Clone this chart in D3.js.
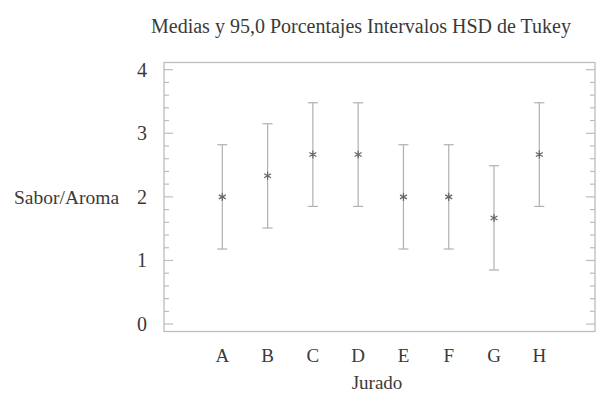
<!DOCTYPE html>
<html>
<head>
<meta charset="utf-8">
<script src="https://cdn.jsdelivr.net/npm/d3@7"></script>
<style>
  body { margin: 0; background: #fff; }
  svg text { font-family: "Liberation Serif", "DejaVu Serif", serif; fill: #3a3a3a; }
</style>
</head>
<body>
<svg id="chart" width="596" height="393"></svg>
<script>
// Tukey HSD means and 95% intervals
const jurados = ['A', 'B', 'C', 'D', 'E', 'F', 'G', 'H'];
const medias = [2.0, 2.333, 2.667, 2.667, 2.0, 2.0, 1.667, 2.667];
const inferior = [1.18, 1.51, 1.85, 1.85, 1.18, 1.18, 0.85, 1.85];
const superior = [2.82, 3.15, 3.48, 3.48, 2.82, 2.82, 2.49, 3.48];
const yTicks = [0, 1, 2, 3, 4];

const svg = d3.select('#chart');
const box = { left: 164, top: 62.5, right: 595, bottom: 331.5 };

const x = d3.scalePoint()
  .domain(jurados)
  .range([box.left, 597.6])
  .padding(1.287);

const y = d3.scaleLinear()
  .domain([-0.117, 4.113])
  .range([box.bottom, box.top]);

const gray = '#bcbcbc';

// frame
svg.append('rect')
  .attr('x', box.left).attr('y', box.top)
  .attr('width', box.right - box.left).attr('height', box.bottom - box.top)
  .attr('fill', 'none').attr('stroke', gray).attr('stroke-width', 1.3);

// ticks left and right, inward
const minor = d3.range(0, 4.01, 0.2).map(v => +v.toFixed(1));
[[box.left, 1], [box.right, -1]].forEach(([x0, dir]) => {
  svg.append('g').selectAll('line')
    .data(minor)
    .join('line')
    .attr('x1', x0)
    .attr('x2', d => x0 + dir * (Number.isInteger(d) ? 9 : 5))
    .attr('y1', d => y(d)).attr('y2', d => y(d))
    .attr('stroke', gray).attr('stroke-width', 1.2);
});

// y tick labels
svg.append('g').selectAll('text')
  .data(yTicks)
  .join('text')
  .attr('x', 142).attr('y', d => y(d))
  .attr('dy', '0.35em')
  .attr('text-anchor', 'middle')
  .attr('font-size', 20)
  .text(d => d);

// x tick labels
svg.append('g').selectAll('text')
  .data(jurados)
  .join('text')
  .attr('x', d => x(d)).attr('y', 355)
  .attr('dy', '0.35em')
  .attr('text-anchor', 'middle')
  .attr('font-size', 19)
  .text(d => d);

// error bars
const bars = svg.append('g')
  .selectAll('g')
  .data(jurados)
  .join('g')
  .attr('stroke', '#b0b0b0')
  .attr('stroke-width', 1.2);

bars.append('line')
  .attr('x1', d => x(d)).attr('x2', d => x(d))
  .attr('y1', (d, i) => y(superior[i])).attr('y2', (d, i) => y(inferior[i]));
bars.append('line')
  .attr('x1', d => x(d) - 5).attr('x2', d => x(d) + 5)
  .attr('y1', (d, i) => y(superior[i])).attr('y2', (d, i) => y(superior[i]));
bars.append('line')
  .attr('x1', d => x(d) - 5).attr('x2', d => x(d) + 5)
  .attr('y1', (d, i) => y(inferior[i])).attr('y2', (d, i) => y(inferior[i]));

// mean markers
svg.append('g')
  .selectAll('path')
  .data(jurados)
  .join('path')
  .attr('transform', (d, i) => `translate(${x(d)},${y(medias[i])})`)
  .attr('d', d3.symbol(d3.symbolAsterisk, 45))
  .attr('fill', 'none')
  .attr('stroke', '#666')
  .attr('stroke-width', 1.2);

// titles
svg.append('text')
  .attr('x', 361).attr('y', 33)
  .attr('text-anchor', 'middle')
  .attr('font-size', 20)
  .text('Medias y 95,0 Porcentajes Intervalos HSD de Tukey');

svg.append('text')
  .attr('x', 14).attr('y', 197)
  .attr('dy', '0.35em')
  .attr('font-size', 19.5)
  .text('Sabor/Aroma');

svg.append('text')
  .attr('x', 377).attr('y', 382)
  .attr('dy', '0.35em')
  .attr('text-anchor', 'middle')
  .attr('font-size', 19)
  .text('Jurado');
</script>
</body>
</html>
